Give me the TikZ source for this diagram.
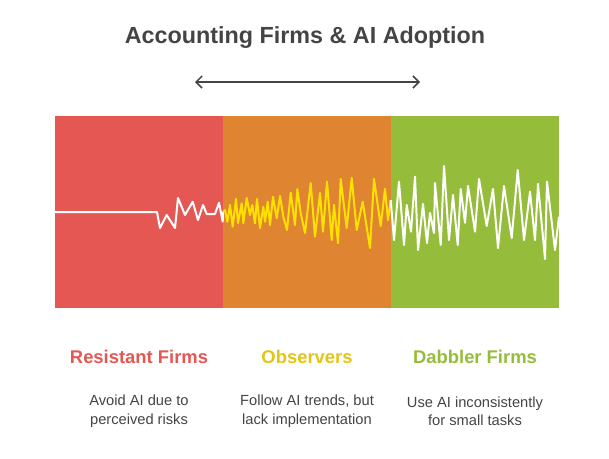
\documentclass[tikz,border=0pt]{standalone}
\usepackage{fontspec}
\setmainfont{Liberation Sans}
\usetikzlibrary{arrows.meta,positioning}
\definecolor{resred}{HTML}{E55753}
\definecolor{obsorange}{HTML}{DF8430}
\definecolor{dabgreen}{HTML}{95BC3A}
\definecolor{wavegold}{HTML}{FFE100}
\definecolor{obsgold}{HTML}{E6C416}
\definecolor{inkgray}{HTML}{444444}

\begin{document}
\begin{tikzpicture}[x=0.75pt,y=-0.75pt,
  panel/.style={inner sep=0pt,minimum width=126pt,minimum height=144pt},
  header/.style={font=\bfseries\fontsize{13.8}{16}\selectfont},
  desc/.style={text=inkgray,align=center,font=\fontsize{11}{13.8}\selectfont},
  wave/.style={line width=1.5pt,line join=round}]

  \useasboundingbox (0,0) rectangle (609,458);

  % title and arrow
  \node[text=inkgray,font=\bfseries\fontsize{17.5}{20}\selectfont] (title) at (305,38) {Accounting Firms \& AI Adoption};
  \coordinate (arrowL) at (195,82);
  \coordinate (arrowR) at (420,82);
  \draw[inkgray,line width=1.1pt,{Straight Barb[length=4.5pt,width=9pt]}-{Straight Barb[length=4.5pt,width=9pt]}] (arrowL) -- (arrowR);

  % the three panels
  \node[panel,fill=resred] (resistant) at (139,212) {};
  \node[panel,fill=obsorange] (observers) at (307,212) {};
  \node[panel,fill=dabgreen] (dabbler) at (475,212) {};

  % signal
  \draw[wave,white] (55,212) -- (157,212) -- (160,228) -- (166.7,215) -- (175,228) -- (178,198)
    -- (185,215) -- (192.7,201.7) -- (198,220) -- (203,205) -- (206.7,214) -- (215,214)
    -- (219,202.7) -- (222.7,221.7) -- (223,212);
  \draw[wave,wavegold] (223,212) -- (225,210) -- (227.3,221.7) -- (230,205) -- (232.7,226.7) -- (236,199)
    -- (238,223) -- (241.7,203.3) -- (243.3,223.3) -- (246.7,198) -- (250,215) -- (252.3,205)
    -- (255,223.3) -- (257,199) -- (260,228) -- (263.3,206.7) -- (265,221.7) -- (267.7,201.7)
    -- (270,225) -- (273,196.7) -- (276.7,218.3) -- (280,196) -- (283.3,216.7) -- (287,230)
    -- (290.7,192.7) -- (295,225) -- (297.3,189) -- (300.7,213.3) -- (305,233) -- (310.7,183)
    -- (315,236.7) -- (320,193) -- (323,231.7) -- (327,181.7) -- (331.7,240) -- (334,205)
    -- (338,243) -- (340.7,179) -- (346.7,228) -- (351.7,178) -- (356.7,230) -- (362.7,201.7)
    -- (370,248) -- (374,179) -- (380.7,226) -- (385,189) -- (388,220) -- (390.7,200);
  \draw[wave,white] (390.7,200) -- (394,240) -- (399,181.7) -- (404,245) -- (406.7,205) -- (411,231.7)
    -- (415,176.7) -- (418,250) -- (423,204) -- (427,243) -- (430,213) -- (434,233)
    -- (435,183) -- (440.7,245) -- (444,166) -- (449,240) -- (453,195) -- (457.7,245)
    -- (460.7,189) -- (465,222.7) -- (468,186) -- (475,231.7) -- (479,179) -- (486.7,226)
    -- (493,189) -- (498,248) -- (504,186) -- (511.7,238) -- (517.7,170) -- (524,240)
    -- (530,191.7) -- (535,240) -- (538,184) -- (545,259) -- (547,181.7) -- (555,250)
    -- (559,216.7);

  % labels
  \node[header,text=resred] (resistanthead) at (139,357) {Resistant Firms};
  \node[header,text=obsgold] (observershead) at (307,357) {Observers};
  \node[header,text=dabgreen] (dabblerhead) at (475,357) {Dabbler Firms};

  \node[desc] (resistantdesc) at (139,411) {Avoid AI due to\\perceived risks};
  \node[desc] (observersdesc) at (307,411) {Follow AI trends, but\\lack implementation};
  \node[desc] (dabblerdesc) at (475,411) {Use AI inconsistently\\for small tasks};

\end{tikzpicture}
\end{document}
